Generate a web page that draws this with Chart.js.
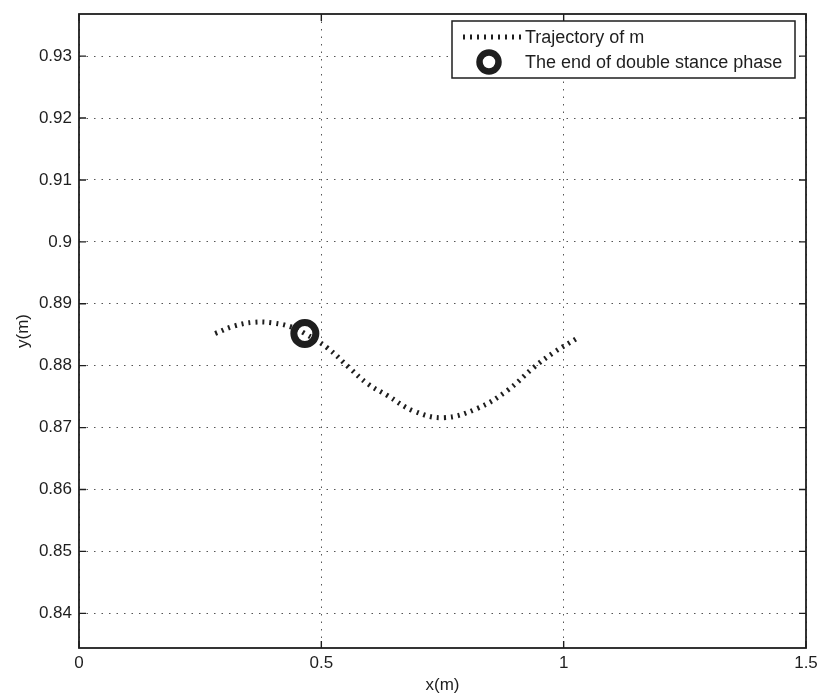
<!DOCTYPE html>
<html>
<head>
<meta charset="utf-8">
<script src="https://cdn.jsdelivr.net/npm/chart.js@4"></script>
<style>
  html, body { margin: 0; padding: 0; background: #fff; }
  #wrap { width: 822px; height: 696px; }
</style>
</head>
<body>
<div id="wrap"><canvas id="plot" width="822" height="696"></canvas></div>
<script>
// trajectory of m
const trajX = [0.281, 0.32, 0.36, 0.40, 0.44, 0.466, 0.512, 0.56, 0.595, 0.636, 0.69, 0.752, 0.822, 0.884, 0.938, 0.979, 1.029];
const trajY = [0.8852, 0.8864, 0.8870, 0.8869, 0.8862, 0.8852, 0.8829, 0.8795, 0.8771, 0.8752, 0.8727, 0.8716, 0.8731, 0.8760, 0.8797, 0.8821, 0.8845];
// end of double stance phase
const endX = [0.466];
const endY = [0.8852];

const xTicks = [0, 0.5, 1, 1.5];
const yTicks = [0.84, 0.85, 0.86, 0.87, 0.88, 0.89, 0.9, 0.91, 0.92, 0.93];

const ink = '#1e1e1e';
const fam = 'Liberation Sans, Arial, sans-serif';
const font = { family: fam, size: 17 };
const tickFont = { family: fam, size: 17, lineHeight: 0.6 };

// box round the axes with small inward tick marks, and the legend
const framePlugin = {
  id: 'frame',
  afterDatasetsDraw(chart) {
    const ctx = chart.ctx;
    const a = chart.chartArea;
    const xs = chart.scales.x, ys = chart.scales.y;
    ctx.save();
    ctx.strokeStyle = ink;
    ctx.lineWidth = 1.8;
    ctx.strokeRect(a.left, a.top, a.right - a.left, a.bottom - a.top);
    ctx.lineWidth = 1.4;
    ctx.beginPath();
    xTicks.forEach(v => {
      const px = xs.getPixelForValue(v);
      ctx.moveTo(px, a.bottom); ctx.lineTo(px, a.bottom - 7);
      ctx.moveTo(px, a.top); ctx.lineTo(px, a.top + 7);
    });
    yTicks.forEach(v => {
      const py = ys.getPixelForValue(v);
      ctx.moveTo(a.left, py); ctx.lineTo(a.left + 7, py);
      ctx.moveTo(a.right, py); ctx.lineTo(a.right - 7, py);
    });
    ctx.stroke();

    // legend
    const lx = 452, ly = 21, lw = 343, lh = 57;
    ctx.fillStyle = '#fff';
    ctx.fillRect(lx, ly, lw, lh);
    ctx.lineWidth = 1.5;
    ctx.strokeRect(lx, ly, lw, lh);
    ctx.strokeStyle = ink;
    ctx.lineWidth = 5;
    ctx.setLineDash([2, 5]);
    ctx.beginPath();
    ctx.moveTo(463, 37); ctx.lineTo(522, 37);
    ctx.stroke();
    ctx.setLineDash([]);
    ctx.lineWidth = 6.5;
    ctx.beginPath();
    ctx.arc(489, 62, 9.5, 0, Math.PI * 2);
    ctx.stroke();
    ctx.fillStyle = ink;
    ctx.font = '18px ' + fam;
    ctx.textBaseline = 'middle';
    ctx.fillText('Trajectory of m', 525, 38);
    ctx.fillText('The end of double stance phase', 525, 63);
    ctx.restore();
  }
};

new Chart(document.getElementById('plot'), {
  type: 'scatter',
  data: {
    datasets: [
      {
        label: 'Trajectory of m',
        data: trajX.map((x, i) => ({ x: x, y: trajY[i] })),
        showLine: true,
        tension: 0.4,
        borderColor: ink,
        borderWidth: 5,
        borderDash: [2, 5],
        pointRadius: 0
      },
      {
        label: 'The end of double stance phase',
        data: endX.map((x, i) => ({ x: x, y: endY[i] })),
        pointRadius: 11,
        pointBorderWidth: 7,
        pointBorderColor: ink,
        pointBackgroundColor: 'rgba(0,0,0,0)'
      }
    ]
  },
  options: {
    responsive: false,
    animation: false,
    layout: { autoPadding: false, padding: { top: 14, right: 16, left: 0, bottom: 0 } },
    plugins: { legend: { display: false }, tooltip: { enabled: false } },
    scales: {
      x: {
        type: 'linear',
        min: 0,
        max: 1.5,
        afterBuildTicks: s => { s.ticks = xTicks.map(v => ({ value: v })); },
        afterFit: s => { s.height = 48; s.paddingLeft = 0; s.paddingRight = 0; },
        ticks: { color: ink, font: font, padding: 5, maxRotation: 0, callback: v => String(v) },
        grid: { color: '#555', lineWidth: 1, drawTicks: false },
        border: { display: false, dash: [1.5, 6] },
        title: { display: true, text: 'x(m)', color: ink, font: font, padding: { top: 0, bottom: 0 } }
      },
      y: {
        type: 'linear',
        min: 0.8344,
        max: 0.9368,
        afterBuildTicks: s => { s.ticks = yTicks.map(v => ({ value: v })); },
        afterFit: s => { s.width = 79; s.paddingTop = 0; s.paddingBottom = 0; },
        ticks: { color: ink, font: tickFont, padding: 7, callback: v => String(Number(v.toFixed(2))) },
        grid: { color: '#555', lineWidth: 1, drawTicks: false },
        border: { display: false, dash: [1.5, 6] },
        title: { display: true, text: 'y(m)', color: ink, font: font, padding: { top: 13, bottom: 0 } }
      }
    }
  },
  plugins: [framePlugin]
});
</script>
</body>
</html>
